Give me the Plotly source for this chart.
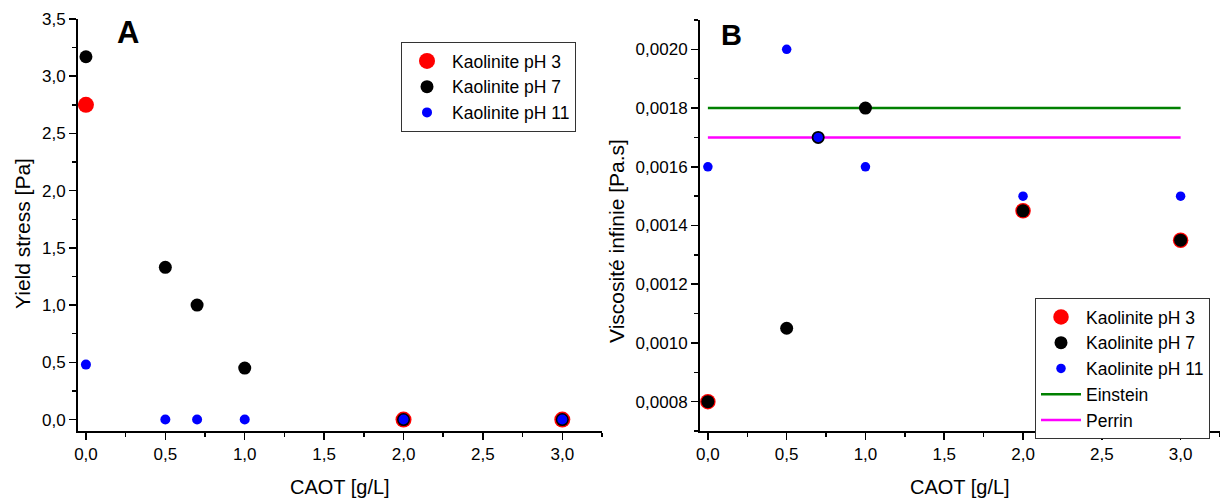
import plotly.graph_objects as go

# ---------------- data ----------------
conc = [0.0, 0.5, 0.7, 1.0, 2.0, 3.0]
conc_ph3 = [0.0, 2.0, 3.0]

yield_ph3 = [2.75, 0.0, 0.0]
yield_ph7 = [3.17, 1.33, 1.00, 0.45, 0.0, 0.0]
yield_ph11 = [0.48, 0.0, 0.0, 0.0, 0.0, 0.0]

visc_ph3 = [0.0008, 0.00145, 0.00135]
visc_ph7 = [0.0008, 0.00105, 0.0017, 0.0018, 0.00145, 0.00135]
visc_ph11 = [0.0016, 0.0020, 0.0017, 0.0016, 0.0015, 0.0015]

model_x = [0.0, 3.0]
einstein_y = [0.0018, 0.0018]
perrin_y = [0.0017, 0.0017]

series_names = ["Kaolinite pH 3", "Kaolinite pH 7", "Kaolinite pH 11"]

# ---------------- styling ----------------
W, H = 1220, 499
FONT = "Liberation Sans, Arial, sans-serif"
RED, BLACK, BLUE = "#FF0000", "#000000", "#0000FF"
GREEN, MAGENTA = "#008000", "#FF00FF"


def px_x(p):
    return p / W


def px_y(p):
    return 1 - p / H


fig = go.Figure()

# ---- Panel A ----
fig.add_trace(go.Scatter(x=conc_ph3, y=yield_ph3, mode="markers", name=series_names[0],
                         marker=dict(color=RED, size=16, line=dict(width=0)),
                         xaxis="x", yaxis="y", legend="legend"))
fig.add_trace(go.Scatter(x=conc, y=yield_ph7, mode="markers", name=series_names[1],
                         marker=dict(color=BLACK, size=13, line=dict(width=0)),
                         xaxis="x", yaxis="y", legend="legend"))
fig.add_trace(go.Scatter(x=conc, y=yield_ph11, mode="markers", name=series_names[2],
                         marker=dict(color=BLUE, size=10, line=dict(width=0)),
                         xaxis="x", yaxis="y", legend="legend"))

# ---- Panel B ----
fig.add_trace(go.Scatter(x=model_x, y=einstein_y, mode="lines", name="Einstein",
                         line=dict(color=GREEN, width=2.5), legendrank=4,
                         xaxis="x2", yaxis="y2", legend="legend2"))
fig.add_trace(go.Scatter(x=model_x, y=perrin_y, mode="lines", name="Perrin",
                         line=dict(color=MAGENTA, width=2.5), legendrank=5,
                         xaxis="x2", yaxis="y2", legend="legend2"))
fig.add_trace(go.Scatter(x=conc_ph3, y=visc_ph3, mode="markers", name=series_names[0],
                         marker=dict(color=RED, size=15.5, line=dict(width=0)), legendrank=1,
                         xaxis="x2", yaxis="y2", legend="legend2"))
fig.add_trace(go.Scatter(x=conc, y=visc_ph7, mode="markers", name=series_names[1],
                         marker=dict(color=BLACK, size=13, line=dict(width=0)), legendrank=2,
                         xaxis="x2", yaxis="y2", legend="legend2"))
fig.add_trace(go.Scatter(x=conc, y=visc_ph11, mode="markers", name=series_names[2],
                         marker=dict(color=BLUE, size=9.5, line=dict(width=0)), legendrank=3,
                         xaxis="x2", yaxis="y2", legend="legend2"))


def axis_style(**kw):
    d = dict(
        showline=True, linecolor="black", linewidth=2, mirror=False,
        showgrid=False, zeroline=False,
        ticks="outside", ticklen=7, tickwidth=1.5, tickcolor="black",
        tickfont=dict(family=FONT, size=17, color="black"),
        automargin=False, fixedrange=True,
    )
    d.update(kw)
    return d


MINOR = dict(ticks="outside", ticklen=4, tickwidth=1.5, tickcolor="black", showgrid=False)

fig.update_layout(
    width=W, height=H,
    margin=dict(l=0, r=0, t=0, b=0),
    paper_bgcolor="white", plot_bgcolor="white",
    separators=", ",
    font=dict(family=FONT, color="black"),
    xaxis=axis_style(domain=[px_x(78), px_x(602)], range=[-0.05, 3.25],
                     tick0=0, dtick=0.5, tickformat=".1f", anchor="y",
                     minor=dict(MINOR, tick0=0, dtick=0.25)),
    yaxis=axis_style(domain=[px_y(431), px_y(19)], range=[-0.1, 3.5],
                     tick0=0, dtick=0.5, tickformat=".1f", anchor="x",
                     minor=dict(MINOR, tick0=0, dtick=0.25)),
    xaxis2=axis_style(domain=[px_x(700), 1.0], range=[-0.05, 3.25],
                      tick0=0, dtick=0.5, tickformat=".1f", anchor="y2",
                      minor=dict(MINOR, tick0=0, dtick=0.25)),
    yaxis2=axis_style(domain=[px_y(431), px_y(20)], range=[0.0007, 0.0021],
                      tick0=0, dtick=0.0002, tickformat=".4f", anchor="x2",
                      minor=dict(MINOR, tick0=0, dtick=0.0001)),
    legend=dict(x=px_x(401), y=px_y(42), xanchor="left", yanchor="top",
                bgcolor="white", bordercolor="#333333", borderwidth=1,
                font=dict(family=FONT, size=17.5, color="black"),
                itemwidth=40, tracegroupgap=0),
    legend2=dict(x=px_x(1035), y=px_y(298), xanchor="left", yanchor="top",
                 bgcolor="white", bordercolor="#333333", borderwidth=1,
                 font=dict(family=FONT, size=17.5, color="black"),
                 itemwidth=40, tracegroupgap=0, traceorder="normal"),
    showlegend=True,
)

annotations = [
    dict(text="CAOT [g/L]", x=px_x(340), y=px_y(487), font=dict(size=20)),
    dict(text="CAOT [g/L]", x=px_x(960), y=px_y(487), font=dict(size=20)),
    dict(text="Yield stress [Pa]", x=px_x(22), y=px_y(234), textangle=-90, font=dict(size=21)),
    dict(text="Viscosité infinie [Pa.s]", x=px_x(617), y=px_y(241), textangle=-90, font=dict(size=21)),
    dict(text="<b>A</b>", x=px_x(127.5), y=px_y(33), font=dict(size=31)),
    dict(text="<b>B</b>", x=px_x(731), y=px_y(35), font=dict(size=29)),
]
for a in annotations:
    a.update(xref="paper", yref="paper", showarrow=False, xanchor="center", yanchor="middle")
    a["font"].update(family=FONT, color="black")
fig.update_layout(annotations=annotations)

fig.write_html(
    "out.html",
    config={"displayModeBar": False, "staticPlot": True},
    post_script="document.body.style.margin='0';document.body.style.padding='0';document.body.style.overflow='hidden';",
)
